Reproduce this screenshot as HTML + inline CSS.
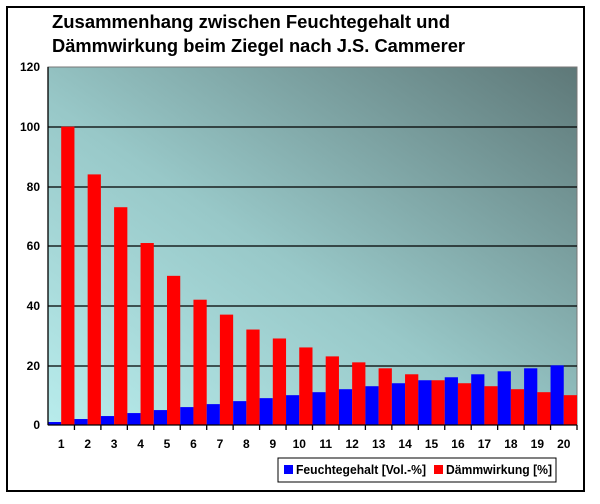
<!DOCTYPE html>
<html><head><meta charset="utf-8"><style>
body{margin:0;background:#fff;width:600px;height:499px;overflow:hidden}
svg text{font-family:"Liberation Sans",sans-serif;font-weight:bold}
</style></head><body>
<svg width="600" height="499" viewBox="0 0 600 499">
<defs>
<linearGradient id="g" x1="0" y1="1" x2="1" y2="0">
<stop offset="0" stop-color="#b8ecec"/>
<stop offset="0.45" stop-color="#98c8c8"/>
<stop offset="1" stop-color="#5e7878"/>
</linearGradient>
</defs>
<rect x="7" y="7" width="577" height="484" fill="#fff" stroke="#000" stroke-width="2"/>
<text x="52" y="28" font-size="18.5" textLength="398" lengthAdjust="spacingAndGlyphs">Zusammenhang zwischen Feuchtegehalt und</text>
<text x="52" y="52" font-size="18.5" textLength="413" lengthAdjust="spacingAndGlyphs">Dämmwirkung beim Ziegel nach J.S. Cammerer</text>
<rect x="48" y="67" width="529" height="358" fill="url(#g)" stroke="#777" stroke-width="1"/>
<g stroke="#000" stroke-width="1.3">
<line x1="48" y1="127" x2="577" y2="127"/>
<line x1="48" y1="187" x2="577" y2="187"/>
<line x1="48" y1="246" x2="577" y2="246"/>
<line x1="48" y1="306" x2="577" y2="306"/>
<line x1="48" y1="366" x2="577" y2="366"/>
</g>
<g id="bars"></g>
<g stroke="#000" stroke-width="1.3" id="ax">
<line x1="48" y1="67" x2="48" y2="425"/>
<line x1="48" y1="425" x2="577" y2="425"/>
</g>
<g font-size="12" text-anchor="end">
<text x="40" y="71">120</text><text x="40" y="131">100</text><text x="40" y="191">80</text>
<text x="40" y="250">60</text><text x="40" y="310">40</text><text x="40" y="370">20</text><text x="40" y="429">0</text>
</g>
<g font-size="12" text-anchor="middle" id="xl"></g>
<rect x="278" y="458" width="278" height="24" fill="#fff" stroke="#000" stroke-width="1"/>
<rect x="284" y="465" width="9" height="9" fill="#0000ff"/>
<text x="296" y="474" font-size="12.5" textLength="130" lengthAdjust="spacingAndGlyphs">Feuchtegehalt [Vol.-%]</text>
<rect x="434" y="465" width="9" height="9" fill="#ff0000"/>
<text x="446" y="474" font-size="12.5" textLength="106" lengthAdjust="spacingAndGlyphs">Dämmwirkung [%]</text>
</svg>
<script>
var d=[100,84,73,61,50,42,37,32,29,26,23,21,19,17,15,14,13,12,11,10];
var s=2.9833,w=26.45,b=document.getElementById('bars'),xl=document.getElementById('xl'),ax=document.getElementById('ax');
var ns="http://www.w3.org/2000/svg";
function r(x,y,ww,h,c){var e=document.createElementNS(ns,'rect');e.setAttribute('x',x);e.setAttribute('y',y);e.setAttribute('width',ww);e.setAttribute('height',h);e.setAttribute('fill',c);b.appendChild(e);}
for(var i=0;i<20;i++){var x0=48+i*w;
var hb=(i+1)*s;r(x0,425-hb,13.2,hb,'#0000ff');
var hr=d[i]*s;r(x0+13.2,425-hr,13.25,hr,'#ff0000');
var t=document.createElementNS(ns,'text');t.setAttribute('x',x0+w/2);t.setAttribute('y',448);t.textContent=i+1;xl.appendChild(t);
var l=document.createElementNS(ns,'line');l.setAttribute('x1',x0+w);l.setAttribute('x2',x0+w);l.setAttribute('y1',425);l.setAttribute('y2',430);ax.appendChild(l);}
</script>
</body></html>
